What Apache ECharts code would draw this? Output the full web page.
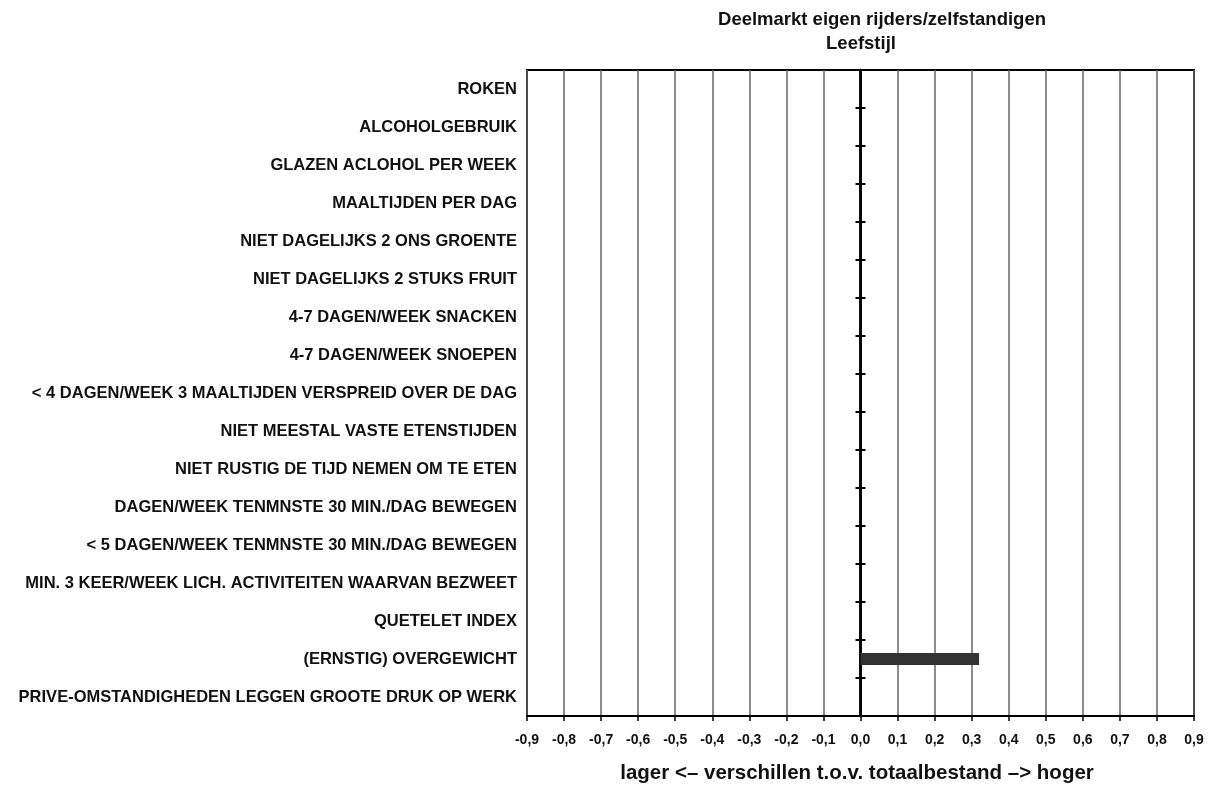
<!DOCTYPE html>
<html>
<head>
<meta charset="utf-8">
<title>Deelmarkt eigen rijders/zelfstandigen – Leefstijl</title>
<script src="https://cdn.jsdelivr.net/npm/echarts@6/dist/echarts.min.js"></script>
<style>
  html, body { margin: 0; padding: 0; background: #fff; }
  #chart { width: 1221px; height: 788px; }
</style>
</head>
<body>
<div id="chart"></div>
<script>
// Leefstijl-onderwerpen (van boven naar beneden)
const categories = [
  'ROKEN',
  'ALCOHOLGEBRUIK',
  'GLAZEN ACLOHOL PER WEEK',
  'MAALTIJDEN PER DAG',
  'NIET DAGELIJKS 2 ONS GROENTE',
  'NIET DAGELIJKS 2 STUKS FRUIT',
  '4-7 DAGEN/WEEK SNACKEN',
  '4-7 DAGEN/WEEK SNOEPEN',
  '< 4 DAGEN/WEEK 3 MAALTIJDEN VERSPREID OVER DE DAG',
  'NIET MEESTAL VASTE ETENSTIJDEN',
  'NIET RUSTIG DE TIJD NEMEN OM TE ETEN',
  'DAGEN/WEEK TENMNSTE 30 MIN./DAG BEWEGEN',
  '< 5 DAGEN/WEEK TENMNSTE 30 MIN./DAG BEWEGEN',
  'MIN. 3 KEER/WEEK LICH. ACTIVITEITEN WAARVAN BEZWEET',
  'QUETELET INDEX',
  '(ERNSTIG) OVERGEWICHT',
  'PRIVE-OMSTANDIGHEDEN LEGGEN GROOTE DRUK OP WERK'
];

// Verschil t.o.v. totaalbestand per onderwerp
const verschillen = [0, 0, 0, 0, 0, 0, 0, 0, 0, 0, 0, 0, 0, 0, 0, 0.32, 0];

// Schaal van de x-as
const xMin = -0.9;
const xMax = 0.9;
const xStep = 0.1;

const titleLine1 = 'Deelmarkt eigen rijders/zelfstandigen';
const titleLine2 = 'Leefstijl';
const xAxisTitle = 'lager <\u2013 verschillen t.o.v. totaalbestand \u2013> hoger';

const chart = echarts.init(document.getElementById('chart'), null, { renderer: 'canvas' });

const font = 'Liberation Sans, Arial, Helvetica, sans-serif';

// Een categorie-as die op de nullijn ligt en alleen streepjes toont
function zeroAxis(inside) {
  return {
    type: 'category',
    data: categories,
    inverse: true,
    position: 'left',
    axisLine: {
      show: true,
      onZero: true,
      onZeroAxisIndex: 0,
      lineStyle: { color: '#000', width: 2.5 }
    },
    axisTick: {
      show: true,
      inside: inside,
      length: 5,
      lineStyle: { color: '#000', width: 2 }
    },
    axisLabel: { show: false },
    splitLine: { show: false }
  };
}

const option = {
  backgroundColor: '#fff',
  animation: false,
  textStyle: { fontFamily: font },
  graphic: [
    {
      type: 'text',
      x: 882, y: 20,
      style: {
        text: titleLine1,
        font: 'bold 18.5px ' + font,
        fill: '#111',
        align: 'center',
        verticalAlign: 'middle'
      }
    },
    {
      type: 'text',
      x: 861, y: 44,
      style: {
        text: titleLine2,
        font: 'bold 18.5px ' + font,
        fill: '#111',
        align: 'center',
        verticalAlign: 'middle'
      }
    },
    {
      type: 'text',
      x: 857, y: 773,
      style: {
        text: xAxisTitle,
        font: 'bold 20.5px ' + font,
        fill: '#111',
        align: 'center',
        verticalAlign: 'middle'
      }
    }
  ],
  grid: {
    left: 527,
    right: 27,
    top: 70,
    bottom: 72,
    show: true,
    borderColor: '#000',
    borderWidth: 2,
    backgroundColor: 'transparent'
  },
  xAxis: {
    type: 'value',
    min: xMin,
    max: xMax,
    interval: xStep,
    position: 'bottom',
    axisLine: { show: true, onZero: false, lineStyle: { color: '#000', width: 2 } },
    axisTick: { show: true, length: 5, lineStyle: { color: '#000', width: 1.5 } },
    axisLabel: {
      margin: 17,
      fontSize: 14,
      fontWeight: 'bold',
      color: '#111',
      formatter: v => v.toFixed(1).replace('.', ',')
    },
    splitLine: { show: true, lineStyle: { color: '#666', width: 1.5 } }
  },
  yAxis: [
    {
      type: 'category',
      data: categories,
      inverse: true,
      position: 'left',
      axisLine: { show: false },
      axisTick: { show: false },
      axisLabel: {
        margin: 10,
        fontSize: 16.5,
        fontWeight: 'bold',
        color: '#111'
      },
      splitLine: { show: false }
    },
    zeroAxis(false),
    zeroAxis(true)
  ],
  series: [
    {
      type: 'bar',
      yAxisIndex: 0,
      data: verschillen,
      barWidth: 12,
      itemStyle: { color: '#333' },
      z: 1
    }
  ]
};

chart.setOption(option);
</script>
</body>
</html>
